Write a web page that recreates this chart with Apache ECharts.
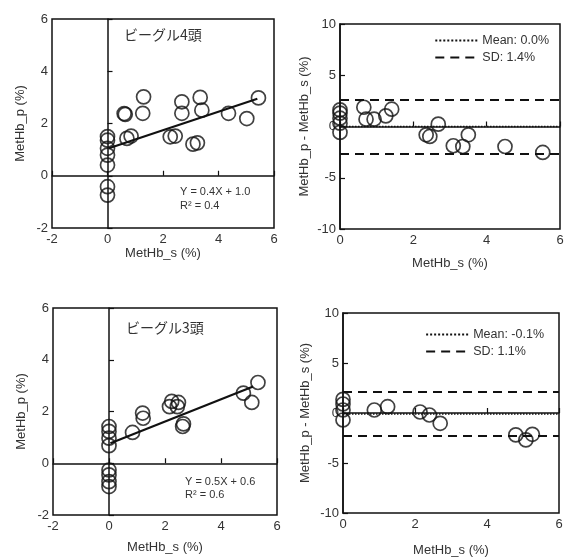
<!DOCTYPE html>
<html>
<head>
<meta charset="utf-8">
<script src="https://cdn.jsdelivr.net/npm/echarts@6/dist/echarts.min.js"></script>
<style>
  html, body { margin: 0; padding: 0; background: #fff; }
  #main { width: 567px; height: 559px; }
</style>
</head>
<body>
<div id="main"></div>
<script>
// ビーグル4頭 : MetHb_s (x) vs MetHb_p (y)
var dog4Scatter = [
  [0, -0.42], [0, -0.74], [0, 0.41], [0, 0.79], [0, 1.05], [0, 1.36], [0, 1.5],
  [0.64, 2.35], [0.6, 2.38], [0.7, 1.43], [0.85, 1.52], [1.3, 3.02], [1.27, 2.39],
  [2.26, 1.49], [2.44, 1.52], [2.68, 2.83], [2.68, 2.39], [3.08, 1.21], [3.24, 1.26],
  [3.34, 3.0], [3.4, 2.51], [4.36, 2.39], [5.02, 2.19], [5.44, 2.98]
];
var dog4Fit = [[0.05, 1.05], [5.4, 2.95]];
// Bland-Altman: MetHb_s (x) vs MetHb_p - MetHb_s (y)
var dog4Diff = [
  [0, 1.62], [0, 1.3], [0, 0.81], [0, 0.32], [0, -0.58],
  [0.65, 1.88], [0.71, 0.71], [0.93, 0.71], [1.25, 1.04], [1.41, 1.69],
  [2.35, -0.81], [2.45, -0.97], [2.68, 0.23], [3.09, -1.88], [3.35, -1.95],
  [3.5, -0.81], [4.5, -1.95], [5.53, -2.53]
];
var dog4Mean = 0.0;
var dog4Limits = [2.6, -2.7];

// ビーグル3頭
var dog3Scatter = [
  [0, 1.42], [0, 1.23], [0, 0.97], [0, 0.68], [0, -0.26], [0, -0.45], [0, -0.71], [0, -0.9],
  [0.84, 1.19], [1.2, 1.94], [1.22, 1.74], [2.16, 2.19], [2.24, 2.39], [2.48, 2.35],
  [2.44, 2.19], [2.63, 1.42], [2.66, 1.52], [4.8, 2.71], [5.1, 2.35], [5.32, 3.12]
];
var dog3Fit = [[0.05, 0.77], [5.15, 2.97]];
var dog3Diff = [
  [0, 1.36], [0, 0.9], [0, 0.3], [0, -0.7],
  [0.87, 0.3], [1.24, 0.63], [2.14, 0.1], [2.4, -0.2], [2.7, -1.03],
  [4.8, -2.19], [5.08, -2.69], [5.26, -2.13]
];
var dog3Mean = -0.1;
var dog3Limits = [2.13, -2.26];

// axis ranges [min, max, interval]
var scatterX = [-2, 6, 2];
var scatterY = [-2, 6, 2];
var diffX = [0, 6, 2];
var diffY = [-10, 10, 5];

var ink = '#111';
var textCol = '#333';

var grids = [], xAxes = [], yAxes = [], series = [], legends = [];

function addPanel(p) {
  var g = grids.length;
  var xi = xAxes.length, yi = yAxes.length;
  grids.push({
    left: p.box[0], top: p.box[1], width: p.box[2], height: p.box[3],
    show: true, borderColor: ink, borderWidth: 1.5, backgroundColor: 'transparent'
  });
  var lbl = { color: textCol, fontSize: 13, fontFamily: 'Liberation Sans' };
  // axes carrying the labels on the frame
  xAxes.push({
    gridIndex: g, type: 'value', position: 'bottom',
    min: p.xr[0], max: p.xr[1], interval: p.xr[2],
    name: 'MetHb_s (%)', nameLocation: 'middle', nameGap: p.xGap,
    nameTextStyle: { color: textCol, fontSize: 13, fontFamily: 'Liberation Sans' },
    axisLine: { show: false, onZero: false }, axisTick: { show: false },
    splitLine: { show: false }, axisLabel: Object.assign({ margin: 5 }, lbl)
  });
  yAxes.push({
    gridIndex: g, type: 'value', position: 'left',
    min: p.yr[0], max: p.yr[1], interval: p.yr[2],
    name: p.yName, nameLocation: 'middle', nameGap: p.yGap,
    nameTextStyle: { color: textCol, fontSize: 13, fontFamily: 'Liberation Sans' },
    axisLine: { show: false, onZero: false }, axisTick: { show: false },
    splitLine: { show: false }, axisLabel: Object.assign({ margin: 4 }, lbl)
  });
  // zero lines with inner ticks
  xAxes.push({
    gridIndex: g, type: 'value', position: 'bottom',
    min: p.xr[0], max: p.xr[1], interval: p.xr[2],
    axisLine: { onZero: true, onZeroAxisIndex: yi, lineStyle: { color: ink, width: 1.5 } },
    axisTick: { inside: true, length: 5, lineStyle: { color: ink, width: 1.2 } },
    axisLabel: { show: false }, splitLine: { show: false }
  });
  yAxes.push({
    gridIndex: g, type: 'value', position: 'left',
    min: p.yr[0], max: p.yr[1], interval: p.yr[2],
    axisLine: { onZero: true, onZeroAxisIndex: xi, lineStyle: { color: ink, width: 1.5 } },
    axisTick: { inside: true, length: 5, lineStyle: { color: ink, width: 1.2 } },
    axisLabel: { show: false }, splitLine: { show: false }
  });

  series.push({
    type: 'scatter', xAxisIndex: xi, yAxisIndex: yi, data: p.points,
    symbol: 'circle', symbolSize: 14, z: 5,
    itemStyle: { color: 'rgba(255,255,255,0)', borderColor: ink, borderWidth: 1.7 }
  });
  if (p.fit) {
    series.push({
      type: 'line', xAxisIndex: xi, yAxisIndex: yi, data: p.fit,
      showSymbol: false, symbol: 'none', z: 4,
      lineStyle: { color: ink, width: 2.2 }
    });
  }
  if (p.meanName) {
    series.push({
      name: p.meanName, type: 'line', xAxisIndex: xi, yAxisIndex: yi,
      data: [[p.xr[0], p.mean], [p.xr[1], p.mean]], symbol: 'none', z: 3,
      color: ink, lineStyle: { color: ink, width: 1.5, type: 'dotted' }
    });
    series.push({
      name: p.sdName, type: 'line', xAxisIndex: xi, yAxisIndex: yi,
      data: [], symbol: 'none', z: 3, color: ink,
      lineStyle: { color: ink, width: 2.2, type: [9, 6] },
      markLine: {
        silent: true, symbol: 'none', label: { show: false },
        lineStyle: { color: ink, width: 2.2, type: [9, 6] },
        data: p.limits.map(function (v) { return { yAxis: v }; })
      }
    });
    legends.push({
      data: [p.meanName, p.sdName], orient: 'vertical',
      right: p.legendPos[0], top: p.legendPos[1],
      itemWidth: 42, itemHeight: 12, itemGap: 4,
      itemStyle: { opacity: 0 },
      textStyle: { color: textCol, fontSize: 12.5, fontFamily: 'Liberation Sans' }
    });
  }
}

addPanel({ box: [52, 19, 222, 209], xr: scatterX, yr: scatterY, points: dog4Scatter, fit: dog4Fit,
  yName: 'MetHb_p (%)', xGap: 16, yGap: 25 });
addPanel({ box: [340, 24, 220, 205], xr: diffX, yr: diffY, points: dog4Diff,
  yName: 'MetHb_p - MetHb_s (%)', xGap: 28, yGap: 29,
  meanName: 'Mean: 0.0%', sdName: 'SD: 1.4%', mean: dog4Mean, limits: dog4Limits, legendPos: [13, 29] });
addPanel({ box: [53, 308, 224, 207], xr: scatterX, yr: scatterY, points: dog3Scatter, fit: dog3Fit,
  yName: 'MetHb_p (%)', xGap: 26, yGap: 25 });
addPanel({ box: [343, 313, 216, 200], xr: diffX, yr: diffY, points: dog3Diff,
  yName: 'MetHb_p - MetHb_s (%)', xGap: 31, yGap: 31,
  meanName: 'Mean: -0.1%', sdName: 'SD: 1.1%', mean: dog3Mean, limits: dog3Limits, legendPos: [18, 323] });

function note(text, left, top, size, family) {
  return { type: 'text', left: left, top: top, silent: true,
    style: { text: text, fill: textCol, font: size + 'px ' + family } };
}

var chart = echarts.init(document.getElementById('main'));
chart.setOption({
  animation: false,
  backgroundColor: '#fff',
  grid: grids,
  xAxis: xAxes,
  yAxis: yAxes,
  legend: legends,
  series: series,
  graphic: [
    note('ビーグル4頭', 124, 28, 14, '"Noto Sans CJK JP"'),
    note('Y = 0.4X + 1.0', 180, 186, 11, '"Liberation Sans"'),
    note('R² = 0.4', 180, 200, 11, '"Liberation Sans"'),
    note('ビーグル3頭', 126, 321, 14, '"Noto Sans CJK JP"'),
    note('Y = 0.5X + 0.6', 185, 476, 11, '"Liberation Sans"'),
    note('R² = 0.6', 185, 489, 11, '"Liberation Sans"')
  ]
});
</script>
</body>
</html>
